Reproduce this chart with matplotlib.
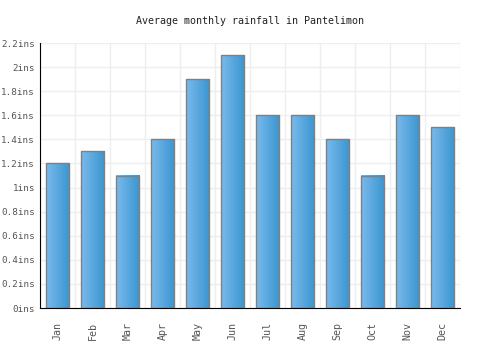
import matplotlib
matplotlib.use("Agg")
import matplotlib.pyplot as plt
import numpy as np
from matplotlib.colors import LinearSegmentedColormap

months = ["Jan", "Feb", "Mar", "Apr", "May", "Jun", "Jul", "Aug", "Sep", "Oct", "Nov", "Dec"]
rainfall = [1.2, 1.3, 1.1, 1.4, 1.9, 2.1, 1.6, 1.6, 1.4, 1.1, 1.6, 1.5]
yticks = [0, 0.2, 0.4, 0.6, 0.8, 1.0, 1.2, 1.4, 1.6, 1.8, 2.0, 2.2]
ytick_labels = ["0ins", "0.2ins", "0.4ins", "0.6ins", "0.8ins", "1ins", "1.2ins",
                "1.4ins", "1.6ins", "1.8ins", "2ins", "2.2ins"]

plt.rcParams['font.family'] = ['DejaVu Sans Mono']

fig = plt.figure(figsize=(5, 3.5), dpi=100)
ax = fig.add_axes([0.08, 0.12, 0.84, 0.757])

x = np.arange(len(months))
bars = ax.bar(x, rainfall, width=0.68, color="none", edgecolor="#808080", linewidth=1, zorder=3)

cmap = LinearSegmentedColormap.from_list("g", ["#7ab9ec", "#3a96d0"])
grad = np.linspace(0, 1, 64).reshape(1, -1)
for b in bars:
    x0, y0 = b.get_x(), b.get_y()
    w, h = b.get_width(), b.get_height()
    ax.imshow(grad, cmap=cmap, extent=[x0, x0 + w, y0, y0 + h], aspect="auto", zorder=2)

ax.set_xlim(-0.5, len(months) - 0.5)
ax.set_ylim(0, 2.2)
ax.set_xticks(x)
ax.set_xticklabels(months, rotation=90, fontsize=7.2, color="#555555")
ax.set_yticks(yticks)
ax.set_yticklabels(ytick_labels, fontsize=6.7, color="#555555")
ax.set_xticks(np.arange(-0.5, len(months), 1), minor=True)
ax.tick_params(axis="x", which="both", length=0, pad=10)
ax.tick_params(axis="y", length=0, pad=3.5)
ax.grid(axis="y", which="major", color="#eeeeee", linewidth=1, zorder=0)
ax.grid(axis="x", which="minor", color="#eeeeee", linewidth=1, zorder=0)
ax.grid(axis="x", which="major", visible=False)
for s in ["top", "right"]:
    ax.spines[s].set_visible(False)
ax.spines["left"].set_color("black")
ax.spines["bottom"].set_color("black")
ax.set_axisbelow(True)

fig.text(0.5, 0.94, "Average monthly rainfall in Pantelimon", ha="center", va="center",
         fontsize=7.2, color="#222222")

fig.savefig("out.png", dpi=100)
